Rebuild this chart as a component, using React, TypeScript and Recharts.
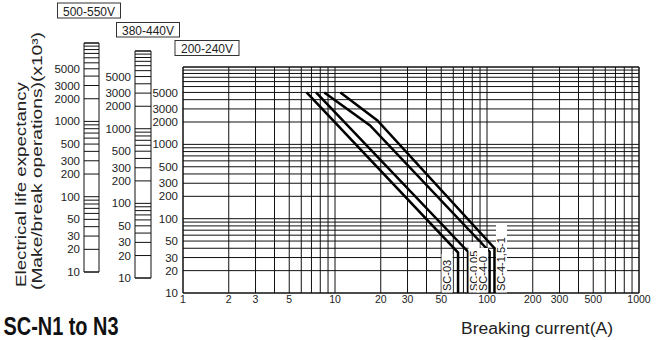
import React from 'react'
import { ComposedChart, LineChart, Line, XAxis, YAxis, CartesianGrid, ReferenceArea, LabelList } from 'recharts'

const CURRENT_TICKS = [1, 2, 3, 4, 5, 6, 7, 8, 9, 10, 20, 30, 40, 50, 60, 70, 80, 90, 100, 200, 300, 400, 500, 600, 700, 800, 900, 1000]
const CURRENT_LABELS = [1, 2, 3, 5, 10, 20, 30, 50, 100, 200, 300, 500, 1000]
const LIFE_TICKS = [10, 20, 30, 40, 50, 60, 70, 80, 90, 100, 200, 300, 400, 500, 600, 700, 800, 900, 1000, 2000, 3000, 4000, 5000, 6000, 7000, 8000, 9000, 10000]
const LIFE_LABELS = [10, 20, 30, 50, 100, 200, 300, 500, 1000, 2000, 3000, 5000]
const LIFE_DOMAIN = [10, 11000]
const VOLTAGES = ['500-550V', '380-440V', '200-240V']

// breaking current (A) -> electrical life (x10^3 operations), 200-240V scale
const sc03 = [
  { current: 6.5, life: 5000 },
  { current: 64.5, life: 35 },
  { current: 64.5, life: 10 },
]
const sc005 = [
  { current: 7.5, life: 5000 },
  { current: 75, life: 36 },
  { current: 75, life: 10 },
]
const sc40 = [
  { current: 8.5, life: 5000 },
  { current: 17, life: 1800 },
  { current: 104, life: 36 },
  { current: 104, life: 10 },
]
const sc415 = [
  { current: 10.85, life: 5000 },
  { current: 19, life: 2100 },
  { current: 112, life: 40 },
  { current: 112, life: 10 },
]

const SERIES = [
  { name: 'SC-03', data: sc03 },
  { name: 'SC-0,05', data: sc005 },
  { name: 'SC-4-0', data: sc40 },
  { name: 'SC-4-1,5-1', data: sc415 },
]
// label placement beside the vertical end of each curve
const LABEL_DX: Record<string, number> = { 'SC-03': -11, 'SC-0,05': 6, 'SC-4-0': -7, 'SC-4-1,5-1': 7 }

const FONT = 'Liberation Sans, Arial, sans-serif'
const tickStyle = { fill: '#222', fontSize: 11.5, fontFamily: FONT }

const fmtLife = (v: number) => (LIFE_LABELS.includes(v) ? String(v) : '')
const fmtCurrent = (v: number) => (CURRENT_LABELS.includes(v) ? String(v) : '')

function curveLabel(name: string) {
  return (props: any) => {
    if (props.value !== 10) return null
    const x = props.x ?? props.viewBox?.x
    const y = props.y ?? props.viewBox?.y
    const cx = x + LABEL_DX[name]
    const len = name.length * 6
    return (
      <g>
        <rect x={cx - 5.5} y={y - len - 9} width={11} height={len + 8.5} fill="#fff" />
        <text
          x={cx}
          y={y - 2}
          transform={`rotate(-90 ${cx} ${y - 2})`}
          fontSize={11}
          fontFamily={FONT}
          fill="#111"
          dominantBaseline="central"
        >
          {name}
        </text>
      </g>
    )
  }
}

function VoltageScale({ left, width, axisWidth, top, height }: { left: number; width: number; axisWidth: number; top: number; height: number }) {
  return (
    <div style={{ position: 'absolute', left, top: 0 }}>
      <LineChart width={width} height={340} margin={{ top, right: 1, bottom: 340 - top - height, left: 0 }}>
        <XAxis type="number" dataKey="current" domain={[0, 1]} allowDataOverflow hide />
        <YAxis
          type="number"
          scale="log"
          domain={LIFE_DOMAIN}
          allowDataOverflow
          ticks={LIFE_TICKS}
          interval={0}
          width={axisWidth}
          axisLine={false}
          tickLine={false}
          tickSize={0}
          tickMargin={4}
          tickFormatter={fmtLife}
          tick={tickStyle}
        />
        <CartesianGrid vertical={false} stroke="#111" />
        <ReferenceArea x1={0} x2={1} y1={10} y2={11000} fill="none" stroke="#111" ifOverflow="visible" />
      </LineChart>
    </div>
  )
}

export default function App() {
  return (
    <div style={{ position: 'relative', width: 658, height: 340, background: '#fff' }}>
      <style>{'body{margin:0}'}</style>
      <div style={{ position: 'absolute', left: 0, top: 0 }}>
        <ComposedChart width={658} height={340} margin={{ top: 67, right: 19, bottom: 17, left: 0 }}>
          <CartesianGrid stroke="#111" />
          <XAxis
            type="number"
            dataKey="current"
            scale="log"
            domain={[1, 1000]}
            allowDataOverflow
            ticks={CURRENT_TICKS}
            interval={0}
            height={30}
            axisLine={false}
            tickLine={false}
            tickSize={0}
            tickMargin={3}
            tickFormatter={fmtCurrent}
            tick={{ ...tickStyle, fontSize: 10.5 }}
          />
          <YAxis
            type="number"
            scale="log"
            domain={LIFE_DOMAIN}
            allowDataOverflow
            ticks={LIFE_TICKS}
            interval={0}
            width={183}
            axisLine={false}
            tickLine={false}
            tickSize={0}
            tickMargin={5}
            tickFormatter={fmtLife}
            tick={tickStyle}
          />
          <ReferenceArea x1={1} x2={1000} y1={10} y2={11000} fill="none" stroke="#111" ifOverflow="visible" />
          {SERIES.map((s) => (
            <Line
              key={s.name}
              data={s.data}
              dataKey="life"
              stroke="#000"
              strokeWidth={2.5}
              dot={false}
              isAnimationActive={false}
            >
              <LabelList dataKey="life" content={curveLabel(s.name)} />
            </Line>
          ))}
        </ComposedChart>
      </div>
      <VoltageScale left={0} width={100} axisWidth={84} top={43} height={229} />
      <VoltageScale left={100} width={52} axisWidth={35} top={51} height={227} />
      <svg width={658} height={340} style={{ position: 'absolute', left: 0, top: 0, pointerEvents: 'none' }}>
        <g fontFamily={FONT} fill="#222">
          <rect x={57.5} y={3} width={63} height={15} fill="#fff" stroke="#333" />
          <text x={89} y={15.5} fontSize={12} textAnchor="middle">{VOLTAGES[0]}</text>
          <rect x={116.5} y={22.5} width={63} height={14.5} fill="#fff" stroke="#333" />
          <text x={148} y={34.5} fontSize={12} textAnchor="middle">{VOLTAGES[1]}</text>
          <rect x={175} y={40.5} width={64} height={15} fill="#fff" stroke="#333" />
          <text x={207} y={53} fontSize={12} textAnchor="middle">{VOLTAGES[2]}</text>
          <text x={20.7} y={287} transform="rotate(-90 20.7 287)" fontSize={15} dominantBaseline="central" textLength={205} lengthAdjust="spacingAndGlyphs">
            Electrical life expectancy
          </text>
          <text x={36} y={290} transform="rotate(-90 36 290)" fontSize={15} dominantBaseline="central" textLength={258} lengthAdjust="spacingAndGlyphs">
            (Make/break operations)(x10³)
          </text>
          <text x={3.5} y={335} fontSize={26} fontWeight="bold" fill="#111" textLength={115} lengthAdjust="spacingAndGlyphs">
            SC-N1 to N3
          </text>
          <text x={461} y={334} fontSize={16} textLength={152} lengthAdjust="spacingAndGlyphs">
            Breaking current(A)
          </text>
        </g>
      </svg>
    </div>
  )
}
